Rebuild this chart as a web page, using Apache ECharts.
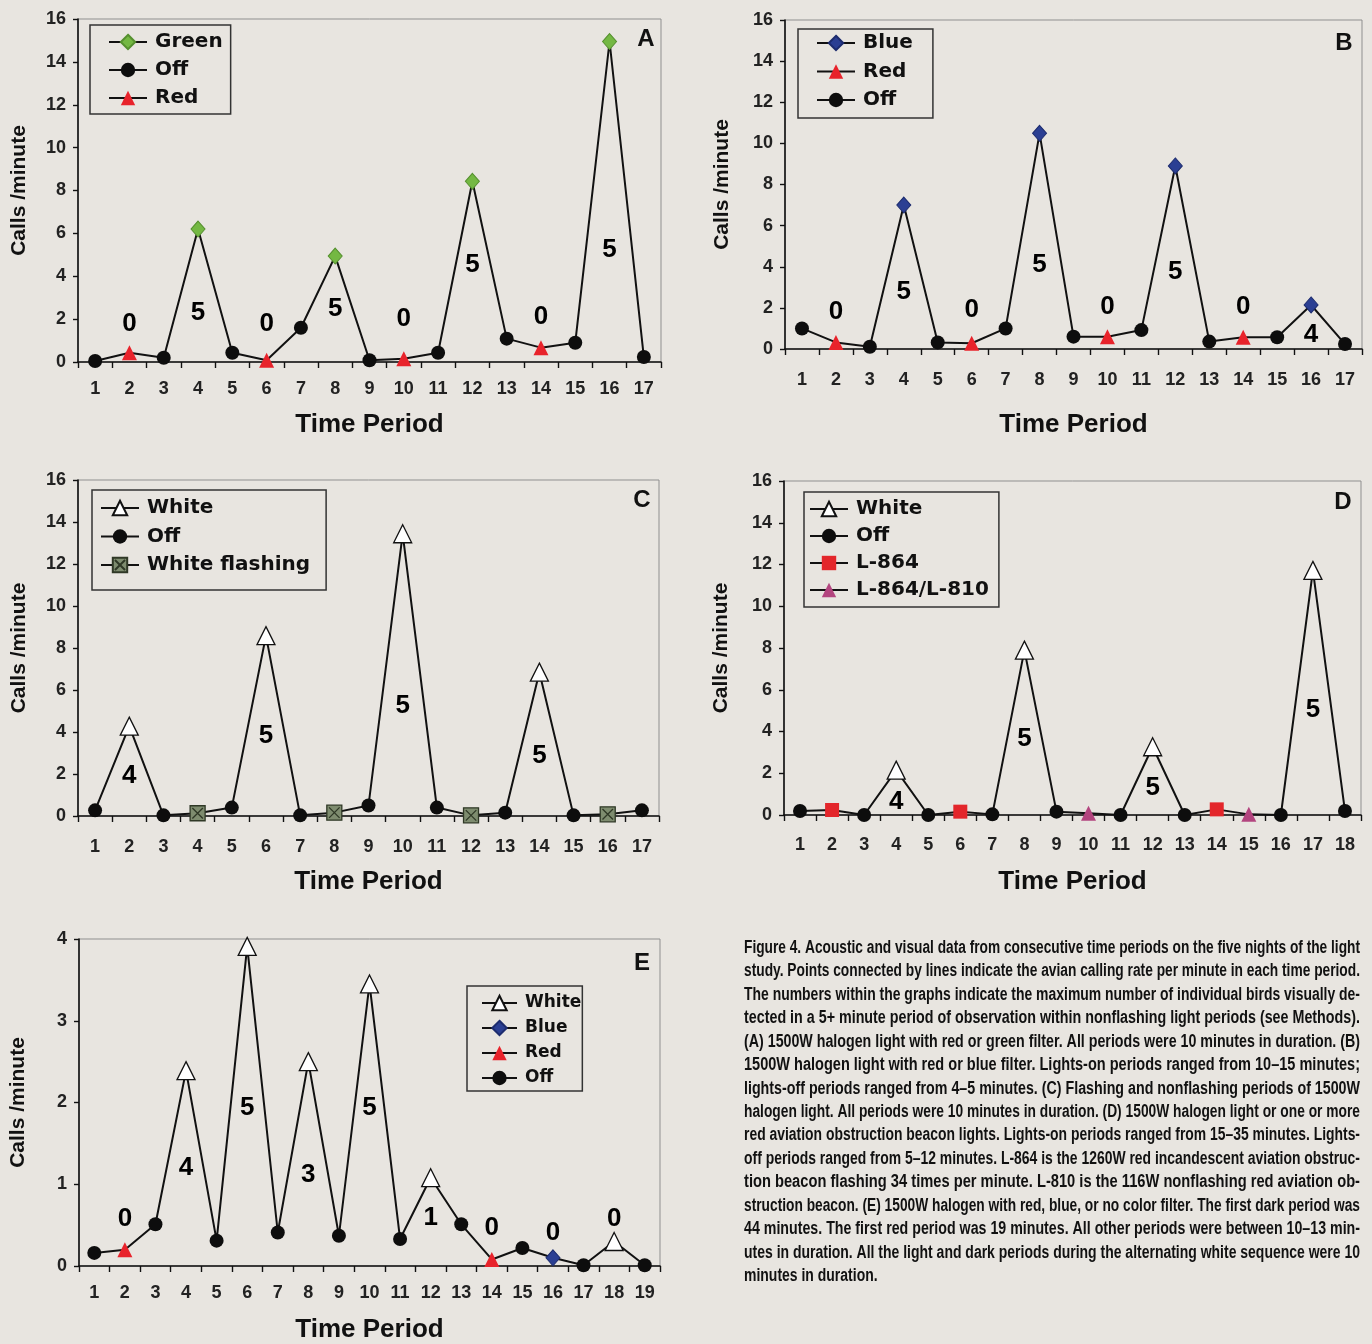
<!DOCTYPE html>
<html><head><meta charset="utf-8">
<script src="https://cdn.jsdelivr.net/npm/echarts@6/dist/echarts.min.js"></script>
<style>html,body{margin:0;padding:0;background:#e8e5e0;}#c{width:1372px;height:1344px;}</style>
</head><body><div id="c"></div><script>
// ---------- DATA ----------
const periodsA = ['1','2','3','4','5','6','7','8','9','10','11','12','13','14','15','16','17'];
const callsA = [0.05,0.43,0.2,6.2,0.43,0.08,1.6,4.94,0.08,0.15,0.43,8.43,1.09,0.67,0.9,14.95,0.23];
const lightA = ['Off','Red','Off','Green','Off','Red','Off','Green','Off','Red','Off','Green','Off','Red','Off','Green','Off'];
const legendA = ['Green','Off','Red'];
const birdsA = [['2',1.8,'0'],['4',2.28,'5'],['6',1.8,'0'],['8',2.5,'5'],['10',2.03,'0'],['12',4.52,'5'],['14',2.1,'0'],['16',5.22,'5']];

const periodsB = ['1','2','3','4','5','6','7','8','9','10','11','12','13','14','15','16','17'];
const callsB = [1.0,0.32,0.11,7.0,0.32,0.28,1.0,10.49,0.6,0.6,0.92,8.9,0.36,0.57,0.57,2.14,0.24];
const lightB = ['Off','Red','Off','Blue','Off','Red','Off','Blue','Off','Red','Off','Blue','Off','Red','Off','Blue','Off'];
const legendB = ['Blue','Red','Off'];
const birdsB = [['2',1.82,'0'],['4',2.79,'5'],['6',1.9,'0'],['8',4.08,'5'],['10',2.06,'0'],['12',3.76,'5'],['14',2.03,'0'],['16',0.68,'4']];

const periodsC = ['1','2','3','4','5','6','7','8','9','10','11','12','13','14','15','16','17'];
const callsC = [0.27,4.28,0.03,0.13,0.4,8.59,0.03,0.16,0.5,13.44,0.4,0.03,0.16,6.85,0.03,0.08,0.27];
const lightC = ['Off','White','Off','White flashing','Off','White','Off','White flashing','Off','White','Off','White flashing','Off','White','Off','White flashing','Off'];
const legendC = ['White','Off','White flashing'];
const birdsC = [['2',1.9,'4'],['6',3.8,'5'],['10',5.23,'5'],['14',2.85,'5']];

const periodsD = ['1','2','3','4','5','6','7','8','9','10','11','12','13','14','15','16','17','18'];
const callsD = [0.19,0.24,0.0,2.15,0.0,0.16,0.03,7.9,0.16,0.08,0.0,3.27,0.0,0.27,0.03,0.0,11.72,0.19];
const lightD = ['Off','L-864','Off','White','Off','L-864','Off','White','Off','L-864/L-810','Off','White','Off','L-864','L-864/L-810','Off','White','Off'];
const legendD = ['White','Off','L-864','L-864/L-810'];
const birdsD = [['4',0.64,'4'],['8',3.67,'5'],['12',1.28,'5'],['17',5.02,'5']];

const periodsE = ['1','2','3','4','5','6','7','8','9','10','11','12','13','14','15','16','17','18','19'];
const callsE = [0.16,0.2,0.51,2.39,0.31,3.91,0.41,2.5,0.37,3.45,0.33,1.08,0.51,0.08,0.22,0.1,0.01,0.3,0.01];
const lightE = ['Off','Red','Off','White','Off','White','Off','White','Off','White','Off','White','Off','Red','Off','Blue','Off','White','Off'];
const legendE = ['White','Blue','Red','Off'];
const birdsE = [['2',0.58,'0'],['4',1.2,'4'],['6',1.93,'5'],['8',1.11,'3'],['10',1.93,'5'],['12',0.59,'1'],['14',0.47,'0'],['16',0.41,'0'],['18',0.58,'0']];

const captionLines = [
 'Figure 4. Acoustic and visual data from consecutive time periods on the five nights of the light',
 'study. Points connected by lines indicate the avian calling rate per minute in each time period.',
 'The numbers within the graphs indicate the maximum number of individual birds visually de-',
 'tected in a 5+ minute period of observation within nonflashing light periods (see Methods).',
 '(A) 1500W halogen light with red or green filter. All periods were 10 minutes in duration. (B)',
 '1500W halogen light with red or blue filter. Lights-on periods ranged from 10\u201315 minutes;',
 'lights-off periods ranged from 4\u20135 minutes. (C) Flashing and nonflashing periods of 1500W',
 'halogen light. All periods were 10 minutes in duration. (D) 1500W halogen light or one or more',
 'red aviation obstruction beacon lights. Lights-on periods ranged from 15\u201335 minutes. Lights-',
 'off periods ranged from 5\u201312 minutes. L-864 is the 1260W red incandescent aviation obstruc-',
 'tion beacon flashing 34 times per minute. L-810 is the 116W nonflashing red aviation ob-',
 'struction beacon. (E) 1500W halogen with red, blue, or no color filter. The first dark period was',
 '44 minutes. The first red period was 19 minutes. All other periods were between 10\u201313 min-',
 'utes in duration. All the light and dark periods during the alternating white sequence were 10',
 'minutes in duration.'
];

// ---------- STYLES ----------
const FF = '"Liberation Sans", Arial, sans-serif';
const LF = '"DejaVu Sans", Verdana, sans-serif';
const markerStyle = {
  'Green': {symbol:'diamond', size:[14,16], itemStyle:{color:'#74b843', borderColor:'#55902f', borderWidth:1}},
  'Off': {symbol:'circle', size:14, itemStyle:{color:'#0d0d0d'}},
  'Red': {symbol:'triangle', size:15, itemStyle:{color:'#e8232b'}},
  'Blue': {symbol:'diamond', size:[14,16], itemStyle:{color:'#2b3f93', borderColor:'#1d2c6e', borderWidth:1}},
  'White': {symbol:'triangle', size:18, itemStyle:{color:'#ffffff', borderColor:'#111', borderWidth:1.3}},
  'White flashing': {symbol:'path://M0 0H10V10H0Z M1.5 1.5L8.5 8.5 M8.5 1.5L1.5 8.5', size:15, itemStyle:{color:'#7e8c6f', borderColor:'#2f3826', borderWidth:1.3}},
  'L-864': {symbol:'rect', size:14, itemStyle:{color:'#e3262b'}},
  'L-864/L-810': {symbol:'triangle', size:15, itemStyle:{color:'#b3457f'}}
};

const panels = [
  {id:'A', periods:periodsA, calls:callsA, light:lightA, legend:legendA, birds:birdsA, max:16, step:2,
   grid:{left:78, top:19, width:583, height:343}, xMargin:18, xGap:50, yGap:48, letter:[646,39],
   lg:{left:90, top:25, padding:[7,8,6,18], itemGap:8, fontSize:20, lineHeight:20, itemWidth:38}},
  {id:'B', periods:periodsB, calls:callsB, light:lightB, legend:legendB, birds:birdsB, max:16, step:2,
   grid:{left:785, top:20, width:577, height:329}, xMargin:22, xGap:63, yGap:52, letter:[1344,43],
   lg:{left:798, top:29, padding:[4,20,8,18], itemGap:8.5, fontSize:20, lineHeight:20, itemWidth:38}},
  {id:'C', periods:periodsC, calls:callsC, light:lightC, legend:legendC, birds:birdsC, max:16, step:2,
   grid:{left:78, top:480, width:581, height:336}, xMargin:22, xGap:53, yGap:48, letter:[642,500],
   lg:{left:92, top:490, padding:[8,16,15,8], itemGap:8.5, fontSize:20, lineHeight:20, itemWidth:38}},
  {id:'D', periods:periodsD, calls:callsD, light:lightD, legend:legendD, birds:birdsD, max:16, step:2,
   grid:{left:784, top:481, width:577, height:334}, xMargin:21, xGap:54, yGap:52, letter:[1343,502],
   lg:{left:804, top:492, padding:[7,10,7,5], itemGap:7, fontSize:20, lineHeight:20, itemWidth:38}},
  {id:'E', periods:periodsE, calls:callsE, light:lightE, legend:legendE, birds:birdsE, max:4, step:1,
   grid:{left:79, top:939, width:581, height:327}, xMargin:18, xGap:51, yGap:50, letter:[642,963],
   lg:{left:467, top:986, padding:[8,1,4,14], itemGap:7, fontSize:17, lineHeight:18, itemWidth:35}}
];

const grid=[], xAxis=[], yAxis=[], series=[], legend=[], graphic=[];
panels.forEach((p,i)=>{
  grid.push(Object.assign({show:true, borderColor:'#8f8f8f', borderWidth:1, backgroundColor:'transparent'}, p.grid));
  xAxis.push({gridIndex:i, type:'category', data:p.periods, boundaryGap:true,
    axisLine:{lineStyle:{color:'#111', width:1.6}},
    axisTick:{show:true, interval:0, length:6, lineStyle:{color:'#111', width:1.4}},
    axisLabel:{interval:0, margin:p.xMargin, fontSize:18, fontWeight:'bold', color:'#222', fontFamily:FF},
    splitLine:{show:false},
    name:'Time Period', nameLocation:'middle', nameGap:p.xGap,
    nameTextStyle:{fontSize:26, fontWeight:'bold', fontFamily:FF, color:'#111'}});
  yAxis.push({gridIndex:i, type:'value', min:0, max:p.max, interval:p.step,
    axisLine:{show:true, lineStyle:{color:'#111', width:1.6}},
    axisTick:{show:true, length:5, lineStyle:{color:'#111', width:1.4}},
    axisLabel:{margin:12, fontSize:18, fontWeight:'bold', color:'#222', fontFamily:FF},
    splitLine:{show:false},
    name:'Calls /minute', nameLocation:'middle', nameRotate:90, nameGap:p.yGap,
    nameTextStyle:{fontSize:21, fontWeight:'bold', fontFamily:FF, color:'#111'}});
  // connecting line through all periods
  series.push({type:'line', xAxisIndex:i, yAxisIndex:i, data:p.calls, symbol:'none',
    lineStyle:{color:'#111', width:2}, z:2, silent:true, animation:false});
  // markers by light condition
  p.legend.forEach(t=>{
    const st = markerStyle[t];
    series.push({type:'line', name:p.id+'|'+t, xAxisIndex:i, yAxisIndex:i,
      data:p.calls.map((v,k)=> p.light[k]===t ? v : null),
      symbol:st.symbol, symbolSize:st.size, showSymbol:true, showAllSymbol:true, connectNulls:false,
      lineStyle:{color:'#111', width:2}, itemStyle:st.itemStyle, z:3, silent:true, animation:false});
  });
  // bird counts
  series.push({type:'scatter', xAxisIndex:i, yAxisIndex:i, data:p.birds, symbolSize:1,
    itemStyle:{color:'rgba(0,0,0,0)', opacity:1}, z:4, silent:true, animation:false,
    label:{show:true, position:'inside', opacity:1, formatter:q=>q.value[2], fontSize:26, fontWeight:'bold', fontFamily:FF, color:'#000'}});
  legend.push({orient:'vertical', left:p.lg.left, top:p.lg.top, padding:p.lg.padding, itemGap:p.lg.itemGap,
    itemWidth:p.lg.itemWidth, itemHeight:18, selectedMode:false,
    borderColor:'#333', borderWidth:1.5, backgroundColor:'transparent',
    data:p.legend.map(t=>p.id+'|'+t), formatter:n=>n.split('|')[1],
    textStyle:{fontSize:p.lg.fontSize, lineHeight:p.lg.lineHeight, fontWeight:'bold', fontFamily:LF, color:'#111', padding:[0,0,0,3]}});
  graphic.push({type:'text', x:p.letter[0], y:p.letter[1],
    style:{text:p.id, fontSize:24, fontWeight:'bold', fontFamily:FF, fill:'#111', align:'center', verticalAlign:'middle'}});
});

// caption, justified by horizontal scaling of each line
const capFont = 'bold 18px "Liberation Sans"';
const ctx = document.createElement('canvas').getContext('2d');
ctx.font = capFont;
const capW = 616, capX = 744, capY0 = 948, capLH = 23.43;
const scales = captionLines.map(s=> capW / ctx.measureText(s).width);
const sorted = scales.slice(0,-1).sort((a,b)=>a-b);
const medScale = sorted[Math.floor(sorted.length/2)];
captionLines.forEach((s,k)=>{
  const last = k===captionLines.length-1;
  graphic.push({type:'text', x:capX, y:capY0 + k*capLH, scaleX: last ? medScale : scales[k],
    style:{text:s, fontSize:18, fontWeight:'bold', fontFamily:'"Liberation Sans", Arial, sans-serif', fill:'#111', align:'left', verticalAlign:'middle'}});
});

const chart = echarts.init(document.getElementById('c'));
chart.setOption({backgroundColor:'#e8e5e0', animation:false, grid, xAxis, yAxis, series, legend, graphic});
</script></body></html>
